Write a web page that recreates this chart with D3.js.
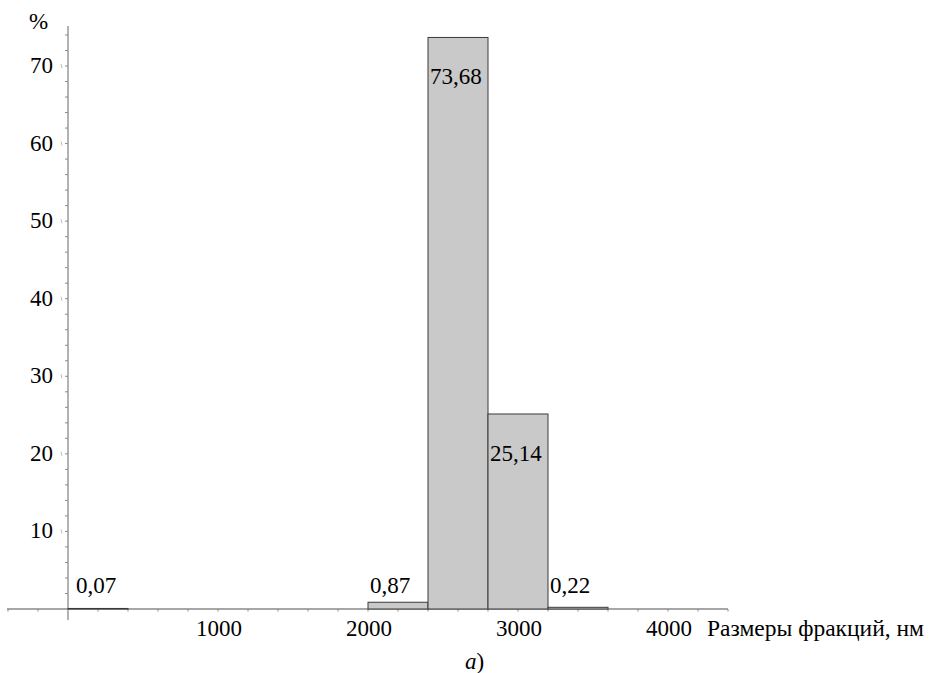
<!DOCTYPE html>
<html>
<head>
<meta charset="utf-8">
<script src="https://cdn.jsdelivr.net/npm/d3@7"></script>
<style>
  html, body { margin: 0; padding: 0; background: #fff; }
  svg { display: block; }
  text { font-family: "Liberation Serif", "DejaVu Serif", serif; fill: #000; }
</style>
</head>
<body>
<svg id="chart" width="933" height="673"></svg>
<script>
// Fraction size bins (nm) and their share (%)
const binStarts = [0, 2000, 2400, 2800, 3200];
const binWidth = 400;
const shares = [0.07, 0.87, 73.68, 25.14, 0.22];
const shareLabels = ["0,07", "0,87", "73,68", "25,14", "0,22"];
const xTickValues = [1000, 2000, 3000, 4000];
const yTickValues = [10, 20, 30, 40, 50, 60, 70];

const svg = d3.select("#chart");
const serif = "'Liberation Serif', 'DejaVu Serif', serif";

const x = d3.scaleLinear().domain([0, 4000]).range([68, 668]);
const y = d3.scaleLinear().domain([0, 70]).range([609, 66]);

const axisColor = "#8a8a8a";

// Axis lines
svg.append("line")
  .attr("x1", 7).attr("x2", 728)
  .attr("y1", y(0)).attr("y2", y(0))
  .attr("stroke", axisColor).attr("stroke-width", 1.3);
svg.append("line")
  .attr("x1", x(0)).attr("x2", x(0))
  .attr("y1", 26).attr("y2", 620)
  .attr("stroke", axisColor).attr("stroke-width", 1.3);

// Minor ticks
const xMinor = d3.range(-400, 4401, 200).filter(v => v !== 0);
svg.append("g").selectAll("line").data(xMinor).join("line")
  .attr("x1", d => x(d)).attr("x2", d => x(d))
  .attr("y1", y(0)).attr("y2", y(0) + 2.5)
  .attr("stroke", axisColor).attr("stroke-width", 1);

const yMinor = d3.range(2, 75, 2);
svg.append("g").selectAll("line").data(yMinor).join("line")
  .attr("x1", x(0) - 3).attr("x2", x(0))
  .attr("y1", d => y(d)).attr("y2", d => y(d))
  .attr("stroke", axisColor).attr("stroke-width", 1);

// Small marks beside the major y ticks
svg.append("g").selectAll("line").data(yTickValues).join("line")
  .attr("x1", x(0) - 7).attr("x2", x(0) - 6)
  .attr("y1", d => y(d) - 2).attr("y2", d => y(d) + 2)
  .attr("stroke", "#bbb").attr("stroke-width", 1);

// Bars
svg.append("g").selectAll("rect").data(shares).join("rect")
  .attr("x", (d, i) => x(binStarts[i]))
  .attr("width", (d, i) => x(binStarts[i] + binWidth) - x(binStarts[i]))
  .attr("y", d => y(d))
  .attr("height", d => Math.max(0.5, y(0) - y(d)))
  .attr("fill", "#c9c9c9")
  .attr("stroke", "#3a3a3a")
  .attr("stroke-width", 1);

// Value labels
svg.append("g").selectAll("text").data(shares).join("text")
  .attr("x", (d, i) => x(binStarts[i]) + (i === 0 ? 8 : 2))
  .attr("y", d => d > 10 ? y(d - 6) : y(2))
  .attr("font-family", serif)
  .attr("font-size", 23)
  .text((d, i) => shareLabels[i]);

// Tick labels
svg.append("g").selectAll("text").data(xTickValues).join("text")
  .attr("x", d => x(d) + 1)
  .attr("y", 636)
  .attr("text-anchor", "middle")
  .attr("font-family", serif)
  .attr("font-size", 23)
  .text(d => d);

svg.append("g").selectAll("text").data(yTickValues).join("text")
  .attr("x", 53)
  .attr("y", d => y(d) + 7)
  .attr("text-anchor", "end")
  .attr("font-family", serif)
  .attr("font-size", 23)
  .text(d => d);

// Axis titles
svg.append("text").attr("x", 29).attr("y", 29)
  .attr("font-family", serif).attr("font-size", 23).text("%");
svg.append("text").attr("x", 707).attr("y", 636)
  .attr("font-family", serif).attr("font-size", 23.5).text("Размеры фракций, нм");

// Panel caption
const cap = svg.append("text").attr("x", 465).attr("y", 669)
  .attr("font-family", serif).attr("font-size", 23);
cap.append("tspan").attr("font-style", "italic").text("а");
cap.append("tspan").text(")");
</script>
</body>
</html>
